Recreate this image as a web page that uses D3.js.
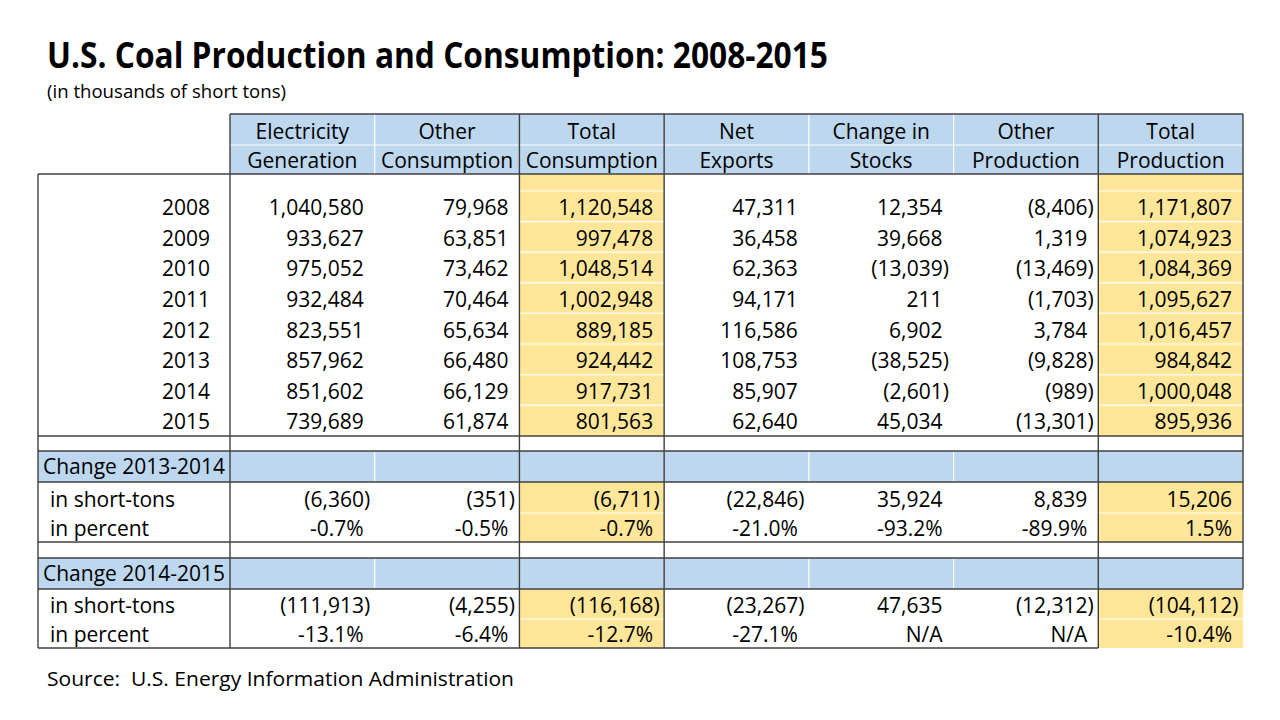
<!DOCTYPE html>
<html>
<head>
<meta charset="utf-8">
<script src="https://cdn.jsdelivr.net/npm/d3@7"></script>
<style>
  html, body { margin: 0; padding: 0; background: #fff; }
  svg { display: block; }
  text { font-family: "Open Sans", "Noto Sans", sans-serif; fill: #000; }
</style>
</head>
<body>
<svg id="chart" width="1280" height="720"></svg>
<script>
// ---------- DATA ----------
const title = "U.S. Coal Production and Consumption: 2008-2015";
const subtitle = "(in thousands of short tons)";
const source = "Source:  U.S. Energy Information Administration";

const headerLine1 = ["Electricity", "Other", "Total", "Net", "Change in", "Other", "Total"];
const headerLine2 = ["Generation", "Consumption", "Consumption", "Exports", "Stocks", "Production", "Production"];
const highlightCols = [2, 6];

const years = [2008, 2009, 2010, 2011, 2012, 2013, 2014, 2015];
const electricityGeneration = [1040580, 933627, 975052, 932484, 823551, 857962, 851602, 739689];
const otherConsumption = [79968, 63851, 73462, 70464, 65634, 66480, 66129, 61874];
const totalConsumption = [1120548, 997478, 1048514, 1002948, 889185, 924442, 917731, 801563];
const netExports = [47311, 36458, 62363, 94171, 116586, 108753, 85907, 62640];
const changeInStocks = [12354, 39668, -13039, 211, 6902, -38525, -2601, 45034];
const otherProduction = [-8406, 1319, -13469, -1703, 3784, -9828, -989, -13301];
const totalProduction = [1171807, 1074923, 1084369, 1095627, 1016457, 984842, 1000048, 895936];

const changeLabels = ["Change 2013-2014", "Change 2014-2015"];
const change1314Tons = [-6360, -351, -6711, -22846, 35924, 8839, 15206];
const change1314Pct = [-0.7, -0.5, -0.7, -21.0, -93.2, -89.9, 1.5];
const change1415Tons = [-111913, -4255, -116168, -23267, 47635, -12312, -104112];
const change1415Pct = [-13.1, -6.4, -12.7, -27.1, null, null, -10.4];

// ---------- FORMAT ----------
const comma = d3.format(",");
const fmtNum = v => v < 0 ? "(" + comma(-v) + ")" : comma(v);
const fmtPct = v => v == null ? "N/A" : (v < 0 ? "-" : "") + d3.format(".1f")(Math.abs(v)) + "%";

// ---------- LAYOUT ----------
const BLUE = "#BDD7EE", YELLOW = "#FFE699", LINE = "#404040";
const svg = d3.select("#chart");
svg.append("rect").attr("width", 1280).attr("height", 720).attr("fill", "#fff");

const tableLeft = 38;
const x = d3.scaleBand().domain(d3.range(7)).range([230, 1243]);
const tableRight = x.range()[1];
const bw = x.bandwidth();

// build row list
const rows = [];
let yPos = 114;
function addRow(type, h, extra) { rows.push(Object.assign({type, y0: yPos, y1: yPos + h}, extra || {})); yPos += h; }
addRow("header", 31, {labels: headerLine1});
addRow("header", 29, {labels: headerLine2});
addRow("spacerY", 17);
const yearCols = [electricityGeneration, otherConsumption, totalConsumption, netExports, changeInStocks, otherProduction, totalProduction];
years.forEach((yr, i) => addRow("data", 30.6, {label: String(yr), labelAlign: "year", values: yearCols.map(c => fmtNum(c[i]))}));
yPos = 436;
addRow("spacerW", 15);
addRow("change", 31, {label: changeLabels[0]});
addRow("data", 31, {label: "in short-tons", labelAlign: "left", values: change1314Tons.map(fmtNum)});
addRow("data", 29, {label: "in percent", labelAlign: "left", values: change1314Pct.map(fmtPct)});
addRow("spacerW", 16);
addRow("change", 31, {label: changeLabels[1]});
addRow("data", 30, {label: "in short-tons", labelAlign: "left", values: change1415Tons.map(fmtNum)});
addRow("data", 29, {label: "in percent", labelAlign: "left", values: change1415Pct.map(fmtPct)});
const tableBottom = yPos;

// ---------- FILLS ----------
const gFill = svg.append("g");
rows.forEach(r => {
  if (r.type === "header") {
    gFill.append("rect").attr("x", x(0)).attr("y", r.y0).attr("width", tableRight - x(0)).attr("height", r.y1 - r.y0).attr("fill", BLUE);
  } else if (r.type === "change") {
    gFill.append("rect").attr("x", tableLeft).attr("y", r.y0).attr("width", tableRight - tableLeft).attr("height", r.y1 - r.y0).attr("fill", BLUE);
  } else if (r.type === "data" || r.type === "spacerY") {
    highlightCols.forEach(c => {
      gFill.append("rect").attr("x", x(c)).attr("y", r.y0).attr("width", bw).attr("height", r.y1 - r.y0).attr("fill", YELLOW);
    });
  }
});

// ---------- WHITE SEPARATORS ----------
const gWhite = svg.append("g").attr("stroke", "#fff").attr("stroke-width", 1.2);
gWhite.append("line").attr("x1", x(0)).attr("x2", tableRight).attr("y1", rows[0].y1).attr("y2", rows[0].y1);
rows.filter(r => r.type === "header" || r.type === "change").forEach(r => {
  [1, 4, 5].forEach(c => {
    gWhite.append("line").attr("x1", x(c)).attr("x2", x(c)).attr("y1", r.y0).attr("y2", r.y1);
  });
});
rows.forEach((r, i) => {
  const next = rows[i + 1];
  if (!next) return;
  const yellowHere = r.type === "data" || r.type === "spacerY";
  const yellowNext = next.type === "data";
  if (yellowHere && yellowNext) {
    highlightCols.forEach(c => {
      gWhite.append("line").attr("x1", x(c)).attr("x2", x(c) + bw).attr("y1", r.y1).attr("y2", r.y1);
    });
  }
});

// ---------- DARK BORDERS ----------
const gLine = svg.append("g").attr("stroke", LINE).attr("stroke-width", 1.4);
const hLine = (y, xa, xb) => gLine.append("line").attr("x1", xa).attr("x2", xb).attr("y1", y).attr("y2", y);
const vLine = (xx, ya, yb) => gLine.append("line").attr("x1", xx).attr("x2", xx).attr("y1", ya).attr("y2", yb);
hLine(rows[0].y0, x(0), tableRight);
hLine(rows[1].y1, tableLeft, tableRight);
rows.forEach(r => {
  if (r.type === "spacerW") { hLine(r.y0, tableLeft, tableRight); hLine(r.y1, tableLeft, tableRight); }
  if (r.type === "change") { hLine(r.y1, tableLeft, tableRight); }
});
hLine(tableBottom, tableLeft, x(6));
vLine(tableLeft, rows[1].y1, tableBottom);
vLine(x(0), rows[0].y0, tableBottom);
[2, 3, 6].forEach(c => vLine(x(c), rows[0].y0, tableBottom));
const lastChange = rows.filter(r => r.type === "change").slice(-1)[0];
vLine(tableRight, rows[0].y0, lastChange.y1);

// ---------- TEXT ----------
const gText = svg.append("g").style("font-size", "21px");
rows.forEach(r => {
  const base = r.y1 - 6.5;
  if (r.type === "header") {
    r.labels.forEach((t, c) => {
      gText.append("text").attr("x", x(c) + bw / 2).attr("y", base).attr("text-anchor", "middle").text(t);
    });
  }
  if (r.type === "change") {
    gText.append("text").attr("x", 43).attr("y", r.y1 - 8).text(r.label);
  }
  if (r.type === "data") {
    if (r.labelAlign === "year") {
      gText.append("text").attr("x", 210).attr("y", base).attr("text-anchor", "end").text(r.label);
    } else {
      gText.append("text").attr("x", 50).attr("y", base).text(r.label);
    }
    r.values.forEach((t, c) => {
      const shift = t.endsWith(")") ? 6.5 : 0;
      gText.append("text").attr("x", x(c) + bw - 11 + shift).attr("y", base).attr("text-anchor", "end").text(t);
    });
  }
});

// titles
svg.append("text").attr("x", 47).attr("y", 68).style("font-size", "35px").style("font-weight", "bold")
  .attr("textLength", 781).attr("lengthAdjust", "spacingAndGlyphs").text(title);
svg.append("text").attr("x", 47).attr("y", 98).style("font-size", "18px")
  .attr("textLength", 239).attr("lengthAdjust", "spacingAndGlyphs").text(subtitle);
svg.append("text").attr("x", 47).attr("y", 686).style("font-size", "20px").style("white-space", "pre")
  .attr("xml:space", "preserve")
  .attr("textLength", 467).attr("lengthAdjust", "spacingAndGlyphs").text(source);
</script>
</body>
</html>
